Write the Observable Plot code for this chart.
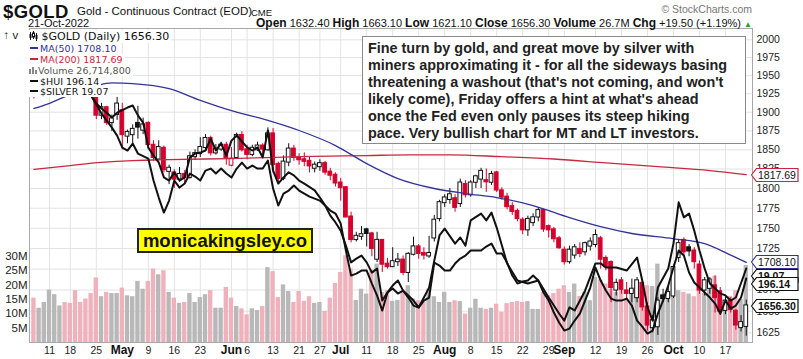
<!DOCTYPE html>
<html><head><meta charset="utf-8">
<script src="https://cdn.jsdelivr.net/npm/d3@7"></script>
<script src="https://cdn.jsdelivr.net/npm/@observablehq/plot@0.6"></script>
<style>
body{margin:0;background:#fff;}
#wrap{position:relative;width:803px;height:359px;overflow:hidden;font-family:"Liberation Sans",Arial,sans-serif;color:#111;}
.abs{position:absolute;white-space:nowrap;}
.leg{position:absolute;left:29px;background:#fff;font-family:"DejaVu Sans",sans-serif;font-size:9.5px;line-height:11px;height:11px;padding-right:2px;white-space:nowrap;}
.note{position:absolute;left:362px;top:36px;width:377px;height:103px;border:1px solid #8a8a8a;background:#fff;padding:3px 0 0 5px;font-weight:bold;font-size:14.4px;line-height:16.9px;color:#222;}
.wm{position:absolute;left:137px;top:228px;width:172px;height:21px;border:2px solid #222;background:#ffff00;font-weight:bold;font-size:18.5px;line-height:21px;text-align:center;color:#111;}
</style></head><body><div id="wrap"></div>
<script>
// ---------- categories ----------
const holidays = ["04-15","05-30","06-20","07-04","09-05"];
const fmtKey = d3.timeFormat("%m-%d");
const days = d3.timeDay.range(new Date(2022,3,6), new Date(2022,9,22))
  .filter(d => d.getDay() !== 0 && d.getDay() !== 6 && !holidays.includes(fmtKey(d)))
  .map(fmtKey);
const dayTicks = [["04-11","11"],["04-18","18"],["04-25","25"],["05-09","9"],["05-16","16"],["05-23","23"],["06-06","6"],["06-13","13"],["06-21","21"],["06-27","27"],["07-11","11"],["07-18","18"],["07-25","25"],["08-08","8"],["08-15","15"],["08-22","22"],["08-29","29"],["09-12","12"],["09-19","19"],["09-26","26"],["10-10","10"],["10-17","17"]];
const monthTicks = [["05-02","May"],["06-01","Jun"],["07-01","Jul"],["08-01","Aug"],["09-01","Sep"],["10-03","Oct"]];
const priceTicks = [1625,1650,1675,1700,1725,1750,1775,1800,1825,1850,1875,1900,1925,1950,1975,2000];
const volTicks = [5,10,15,20,25,30];

// ---------- series (one value per trading day) ----------
const open = [1930,1925,1931,1945,1953,1976,1984,1974,1970,1950,1946,1942,1922,1896,1906,1886,1897,1902,1868,1870,1885,1876,1885,1856,1838,1852,1822,1820,1812,1818,1814,1841,1845,1853,1865,1846,1851,1856,1830,1840,1869,1850,1844,1850,1855,1850,1871,1831,1813,1834,1851,1840,1837,1835,1826,1828,1832,1821,1817,1807,1801,1764,1736,1740,1748,1743,1712,1735,1706,1703,1709,1711,1696,1718,1727,1719,1716,1738,1762,1782,1786,1787,1781,1805,1792,1808,1812,1810,1808,1820,1797,1789,1777,1771,1760,1748,1757,1764,1772,1752,1748,1737,1723,1709,1717,1724,1721,1728,1730,1737,1713,1708,1675,1686,1674,1671,1666,1683,1655,1631,1632,1668,1665,1668,1714,1735,1726,1722,1705,1675,1677,1680,1673,1651,1662,1650,1631,1632.4];
const high = [1936,1938,1950,1958,1980,1988,1987,1998,1975,1960,1958,1950,1930,1912,1908,1896,1920,1912,1876,1883,1908,1892,1887,1862,1862,1855,1830,1824,1827,1823,1847,1850,1866,1870,1868,1857,1860,1860,1853,1872,1874,1856,1856,1860,1858,1879,1878,1834,1842,1858,1856,1845,1846,1841,1834,1837,1835,1826,1820,1813,1802,1770,1745,1752,1750,1745,1745,1736,1713,1726,1719,1716,1720,1739,1730,1726,1740,1766,1785,1792,1800,1792,1812,1810,1810,1817,1826,1825,1822,1822,1801,1794,1782,1774,1763,1765,1768,1776,1774,1754,1751,1740,1727,1728,1730,1732,1733,1738,1748,1740,1716,1710,1688,1690,1684,1688,1690,1686,1660,1645,1666,1676,1680,1705,1736,1738,1730,1726,1710,1690,1690,1692,1678,1668,1666,1652,1645,1663.1];
const low = [1918,1920,1928,1940,1950,1965,1960,1965,1945,1940,1938,1928,1890,1890,1882,1874,1889,1850,1858,1858,1864,1870,1850,1835,1836,1820,1805,1800,1808,1806,1812,1836,1840,1850,1842,1843,1848,1830,1828,1838,1847,1837,1841,1848,1843,1848,1820,1806,1810,1828,1835,1830,1828,1820,1820,1822,1817,1810,1802,1784,1763,1732,1733,1735,1727,1715,1708,1696,1700,1702,1703,1692,1684,1716,1712,1711,1713,1733,1758,1776,1780,1770,1776,1788,1789,1800,1800,1795,1804,1795,1785,1773,1766,1758,1742,1740,1752,1758,1745,1738,1732,1724,1705,1706,1712,1714,1716,1722,1726,1700,1698,1660,1668,1670,1665,1660,1660,1650,1627,1625,1622,1660,1660,1665,1708,1716,1715,1700,1670,1668,1670,1648,1645,1646,1648,1628,1626,1621.1];
const close = [1925,1931,1945,1953,1976,1984,1974,1970,1950,1946,1942,1932,1896,1906,1886,1891,1911,1870,1873,1877,1880,1883,1857,1840,1853,1824,1826,1812,1818,1814,1841,1845,1853,1865,1846,1851,1856,1840,1838,1869,1850,1844,1852,1855,1851,1871,1831,1813,1834,1851,1840,1837,1835,1829,1830,1832,1821,1817,1807,1801,1764,1736,1740,1742,1743.5,1725,1735,1706,1703,1709,1711,1696,1718,1727,1719,1717,1719,1760,1782,1788,1792,1776,1807,1792,1807,1815,1822,1808.5,1818,1798,1789,1777,1771,1762,1748,1761,1763,1772,1749,1748,1737,1726,1709,1723,1726,1719,1731,1733,1741,1712,1703,1678,1683,1676,1671,1676,1686,1655,1634,1639,1662,1665,1672,1702,1731,1721,1722,1709,1675,1686,1687,1666,1650,1662,1652,1634,1636.8,1656.3];
const volumeM = [15.4,11.9,13.9,18.2,16.6,12.7,13.9,13.6,18.0,13.9,15.1,17.0,22.4,15.9,17.4,17.0,17.0,18.9,16.2,15.9,21.2,18.5,21.2,25.5,23.5,24.9,17.4,15.4,13.6,13.9,17.0,13.9,15.6,16.6,18.0,11.9,11.9,19.1,15.4,12.5,11.7,9.6,11.7,11.1,12.5,26.0,24.6,15.6,20.0,17.7,13.9,17.7,14.3,15.9,13.6,13.9,10.8,15.4,20.5,24.3,30.1,25.5,14.6,18.5,16.8,25.2,27.2,17.4,18.0,14.3,14.6,17.4,19.7,15.1,14.5,13.9,18.5,15.9,13.9,17.4,13.9,14.5,14.2,9.9,11.9,15.0,11.9,11.5,11.9,13.3,10.5,13.5,13.9,14.2,13.9,14.2,11.5,11.5,17.4,16.2,17.0,18.5,19.7,17.4,20.3,16.0,17.4,14.5,22.6,21.7,20.3,18.5,17.4,20.3,15.1,17.4,20.3,11.9,19.7,19.4,27.2,16.8,16.8,20.5,18.0,17.4,16.8,15.9,19.7,17.0,18.6,23.0,17.0,14.0,16.0,18.0,15.0,26.7148];

// ---------- overlays (date, value) ----------
const ma50 = [["04-06",1905],["04-11",1912],["04-14",1921],["04-20",1929],["04-25",1936],["04-28",1940],["05-04",1939],["05-13",1932],["05-23",1916],["06-01",1902],["06-10",1889],["06-21",1875.5],["06-30",1855.6],["07-11",1832],["07-19",1812.7],["07-28",1800],["08-05",1793.6],["08-15",1788.5],["08-24",1778.4],["09-02",1763.3],["09-13",1752],["09-21",1743.5],["10-03",1737],["10-11",1731],["10-18",1717],["10-21",1708.1]];
const ma200 = [["04-06",1824.5],["04-18",1829.5],["04-26",1833.5],["05-04",1836],["05-13",1837.3],["06-01",1838.6],["06-21",1841],["07-11",1842.5],["07-21",1843.5],["08-02",1843.5],["08-16",1841],["08-30",1838],["09-14",1833],["09-28",1828],["10-12",1823],["10-21",1817.69]];
const silver = [["04-06",24.29],["04-13",24.88],["04-19",24.73],["04-22",24.14],["04-25",23.91],["04-26",23.76],["04-27",23.64],["04-28",23.50],["04-29",23.64],["05-03",23.79],["05-04",23.85],["05-05",23.56],["05-06",23.35],["05-09",22.62],["05-10",22.38],["05-11",22.18],["05-12",21.74],["05-13",21.65],["05-16",21.89],["05-17",21.65],["05-18",21.74],["05-19",22.33],["05-20",22.44],["05-23",22.47],["05-24",22.53],["05-25",22.88],["05-26",22.53],["05-27",22.74],["05-31",22.38],["06-01",22.82],["06-02",22.97],["06-06",22.62],["06-07",22.53],["06-08",22.62],["06-09",22.33],["06-10",23.12],["06-13",21.94],["06-14",21.56],["06-15",21.74],["06-16",21.89],["06-17",21.80],["06-21",21.65],["06-22",21.56],["06-24",21.36],["06-27",21.15],["06-28",20.92],["06-29",20.62],["06-30",20.42],["07-01",20.18],["07-05",19.74],["07-06",19.25],["07-07",19.36],["07-08",19.45],["07-11",19.25],["07-12",18.95],["07-13",19.07],["07-14",18.13],["07-15",18.37],["07-18",18.57],["07-19",18.72],["07-20",18.42],["07-21",18.28],["07-22",18.13],["07-25",17.93],["07-26",18.22],["07-27",18.51],["07-28",19.30],["07-29",20.04],["08-01",20.24],["08-03",19.80],["08-04",19.98],["08-05",19.74],["08-08",20.48],["08-10",20.68],["08-11",20.48],["08-12",20.71],["08-15",20.27],["08-17",19.22],["08-19",18.72],["08-23",18.63],["08-25",18.72],["08-29",18.22],["08-31",17.75],["09-01",17.54],["09-02",17.93],["09-06",17.84],["09-08",18.42],["09-12",19.22],["09-13",19.22],["09-14",19.10],["09-16",19.10],["09-20",19.01],["09-22",19.39],["09-23",18.72],["09-26",17.93],["09-27",17.54],["09-28",18.51],["09-30",19.07],["10-03",19.80],["10-04",21.01],["10-05",20.57],["10-06",20.68],["10-07",20.18],["10-10",19.60],["10-11",19.07],["10-12",18.63],["10-14",18.34],["10-17",18.28],["10-18",18.13],["10-19",18.22],["10-21",19.07]];
const hui = [["04-06",297.6],["04-13",305.1],["04-19",300.1],["04-22",287.6],["04-26",278.6],["04-28",271.6],["04-29",267.6],["05-02",261.6],["05-03",260.1],["05-04",263.6],["05-05",258.6],["05-09",256.1],["05-10",245.1],["05-11",236.6],["05-12",229.1],["05-13",235.1],["05-16",245.1],["05-17",241.6],["05-18",243.6],["05-19",248.6],["05-20",247.1],["05-23",245.1],["05-24",250.1],["05-25",251.1],["05-26",248.6],["05-27",251.1],["05-31",248.6],["06-01",246.6],["06-02",251.1],["06-03",254.1],["06-06",251.1],["06-07",252.6],["06-08",251.1],["06-09",251.1],["06-10",255.1],["06-13",241.1],["06-14",232.6],["06-15",238.6],["06-16",240.1],["06-17",242.6],["06-21",240.1],["06-22",238.6],["06-23",237.1],["06-24",236.1],["06-27",235.1],["06-28",232.6],["06-29",230.1],["06-30",228.6],["07-01",223.6],["07-05",210.1],["07-06",197.6],["07-07",198.6],["07-08",200.1],["07-11",200.1],["07-12",193.6],["07-13",187.6],["07-14",180.1],["07-15",189.1],["07-18",191.1],["07-19",188.6],["07-20",190.1],["07-21",186.6],["07-22",182.6],["07-25",181.6],["07-26",185.1],["07-27",186.6],["07-28",204.1],["07-29",202.6],["08-01",200.1],["08-02",200.1],["08-03",203.6],["08-04",206.1],["08-05",207.6],["08-08",210.1],["08-09",210.1],["08-10",210.1],["08-11",212.1],["08-12",213.6],["08-15",208.6],["08-16",208.6],["08-17",204.1],["08-18",197.6],["08-19",193.6],["08-22",194.6],["08-23",195.1],["08-24",197.6],["08-25",195.1],["08-26",189.1],["08-29",185.1],["08-30",179.1],["08-31",174.1],["09-01",170.1],["09-02",171.1],["09-06",175.1],["09-07",178.6],["09-08",185.1],["09-09",191.6],["09-12",201.6],["09-13",195.1],["09-14",190.1],["09-15",186.1],["09-16",185.1],["09-19",185.1],["09-20",186.1],["09-21",182.6],["09-22",175.1],["09-23",172.1],["09-26",168.6],["09-27",170.1],["09-28",178.6],["09-29",185.1],["09-30",192.6],["10-03",201.6],["10-04",210.1],["10-05",207.6],["10-06",199.1],["10-07",194.1],["10-10",191.6],["10-11",189.1],["10-12",186.6],["10-13",183.6],["10-14",178.6],["10-17",185.1],["10-18",181.1],["10-19",182.6],["10-20",186.6],["10-21",196.14]];

const noteLines = ["Fine turn by gold, and great move by silver with","miners approximating it - for all the sideways basing","threatening a washout (that's not coming, and won't","likely come), Friday offers a hint at what's ahead","once the Fed even only pauses its steep hiking","pace. Very bullish chart for MT and LT investors."];
const watermark = "monicakingsley.co";

// ---------- build ----------
const idx = new Map(days.map((k, i) => [k, i]));
const N = days.length;
const candles = days.map((k, i) => {
  const prev = i ? close[i - 1] : open[i];
  return {i, o: open[i], h: high[i], l: low[i], c: close[i], v: volumeM[i], down: close[i] < prev, hollow: close[i] >= open[i]};
});
const RED = "#d5002c", PINK = "#efb2bc", GREY = "#b8b8b8";
const pts = arr => arr.map(([d, v]) => ({i: idx.get(d), v}));

const wrap = document.getElementById("wrap");
const W = 803, H = 332;
const xd = [-0.85, N + 0.2];
const yPrice = {type: "log", domain: [1613.9, 2016.1], axis: null};
const base = o => Object.assign({width: W, height: H, marginTop: 1, marginRight: 51, marginBottom: 17, marginLeft: 29,
  style: {background: "transparent", fontFamily: '"Liberation Sans",Arial,sans-serif', fontSize: "10.5px", color: "#222", overflow: "visible"},
  x: {type: "linear", domain: xd, axis: null}}, o);
function add(svg) { svg.style.position = "absolute"; svg.style.left = "0px"; svg.style.top = "27px"; wrap.appendChild(svg); return svg; }

const allTicks = [...dayTicks, ...monthTicks].map(t => idx.get(t[0]));
const labelOf = new Map([...dayTicks, ...monthTicks].map(t => [idx.get(t[0]), t[1]]));

// grid
add(Plot.plot(base({y: yPrice, marks: [
  Plot.ruleY(priceTicks, {stroke: "#e3e3e3"}),
  Plot.ruleX(allTicks, {stroke: "#e3e3e3"})
]})));

// volume + left & bottom axes
add(Plot.plot(base({y: {domain: [0, 109], axis: null}, marks: [
  Plot.rect(candles, {x1: d => d.i - 0.42, x2: d => d.i + 0.42, y1: 0, y2: "v", fill: d => d.down ? PINK : GREY, clip: true}),
  Plot.axisY({anchor: "left", ticks: volTicks, tickFormat: d => d + "M", tickSize: 0, tickPadding: 2, fontSize: 11.5, fill: "#222"}),
  Plot.axisX({ticks: dayTicks.map(t => idx.get(t[0])), tickFormat: i => labelOf.get(i), tickSize: 0, tickPadding: 4, fontSize: 10.5, fill: "#222"}),
  Plot.axisX({ticks: monthTicks.map(t => idx.get(t[0])), tickFormat: i => labelOf.get(i), tickSize: 0, tickPadding: 3, fontSize: 12, fontWeight: "bold", fill: "#111"})
]})));

// candles + moving averages + right axis
const pricePlot = add(Plot.plot(base({y: yPrice, marks: [
  Plot.ruleX(candles, {x: "i", y1: "l", y2: "h", stroke: d => d.down ? RED : "#111", strokeWidth: 1, clip: true}),
  Plot.rect(candles, {x1: d => d.i - 0.36, x2: d => d.i + 0.36, y1: "o", y2: "c", insetTop: -0.5, insetBottom: -0.5,
    fill: d => d.hollow ? "#fff" : (d.down ? RED : "#111"), stroke: d => d.down ? RED : "#111", strokeWidth: 1, clip: true}),
  Plot.line(pts(ma200), {x: "i", y: "v", stroke: "#c8283f", strokeWidth: 1.3, curve: "monotone-x", clip: true}),
  Plot.line(pts(ma50), {x: "i", y: "v", stroke: "#33339a", strokeWidth: 1.3, curve: "monotone-x", clip: true}),
  Plot.axisY({anchor: "right", ticks: priceTicks, tickFormat: d => String(d), tickSize: 0, tickPadding: 4, fontSize: 10.5, fill: "#222"}),
  Plot.frame({stroke: "#a8a8a8"})
]})));

// silver and HUI overlays (own scales)
const silverPlot = add(Plot.plot(base({y: {type: "linear", domain: [16.90, 26.108], axis: null}, marks: [
  Plot.line(pts(silver), {x: "i", y: "v", stroke: "#111", strokeWidth: 2, clip: true})
]})));
const huiPlot = add(Plot.plot(base({y: {type: "linear", domain: [164.14, 321.14], axis: null}, marks: [
  Plot.line(pts(hui), {x: "i", y: "v", stroke: "#111", strokeWidth: 2, clip: true})
]})));

// ---------- HTML overlays ----------
function el(html, cls, css) { const d = document.createElement("div"); d.className = cls || "abs"; if (css) d.style.cssText += css; d.innerHTML = html; wrap.appendChild(d); return d; }
const last = N - 1;
const f2 = d3.format(".2f");
const chg = close[last] - close[last - 1];

el("$GOLD", "abs", "left:3px;top:1px;font-weight:bold;font-size:18.5px;letter-spacing:0.4px;");
el("Gold - Continuous Contract (EOD)", "abs", "left:77px;top:5px;font-size:11.5px;");
el("CME", "abs", "left:251px;top:7px;font-size:9.5px;");
el("21-Oct-2022", "abs", "left:28px;top:17px;font-size:11px;");
el("&copy; StockCharts.com", "abs", "right:51px;top:3px;font-size:10.5px;color:#777;");
el(`<b style="font-size:12px">Open</b> ${f2(open[last])} <b style="font-size:12px">High</b> ${f2(high[last])} <b style="font-size:12px">Low</b> ${f2(low[last])} <b style="font-size:12px">Close</b> ${f2(close[last])} <b style="font-size:12px">Volume</b> ${d3.format(".1f")(volumeM[last])}M <b style="font-size:12px">Chg</b> +${f2(chg)} (+${f2(chg / close[last - 1] * 100)}%) <span style="color:#2a9d2a;font-size:8px">&#9650;</span>`,
  "abs", "right:51px;top:16px;font-size:11px;");

// legend
const candleIcon = `<svg width="9" height="10" style="vertical-align:-1px"><line x1="1.5" y1="1" x2="1.5" y2="9" stroke="#111"/><rect x="0.5" y="3" width="2" height="4" fill="#111"/><line x1="4.5" y1="0" x2="4.5" y2="8" stroke="#111"/><rect x="3.5" y="2" width="2" height="4" fill="#fff" stroke="#111"/><line x1="7.5" y1="2" x2="7.5" y2="10" stroke="#111"/><rect x="6.5" y="4" width="2" height="4" fill="#111"/></svg>`;
const dash = c => `<span style="display:inline-block;width:8px;height:2px;background:${c};vertical-align:3px;margin:0 2px 0 1px"></span>`;
const volIcon = `<svg width="9" height="8" style="vertical-align:0px"><rect x="0" y="3" width="2" height="5" fill="#888"/><rect x="3" y="1" width="2" height="7" fill="#888"/><rect x="6" y="4" width="2" height="4" fill="#888"/></svg>`;
el(`${candleIcon} $GOLD (Daily) ${f2(close[last])}`, "leg", "top:30px;font-size:11px;height:13px;line-height:13px;");
el(`${dash("#33339a")}<span style="color:#33339a">MA(50) ${f2(ma50[ma50.length - 1][1])}</span>`, "leg", "top:43px;");
el(`${dash("#c8283f")}<span style="color:#c8283f">MA(200) ${f2(ma200[ma200.length - 1][1])}</span>`, "leg", "top:54px;");
el(`${volIcon}<span style="color:#555">Volume ${d3.format(",")(Math.round(volumeM[last] * 1e6))}</span>`, "leg", "top:65px;");
el(`${dash("#111")}$HUI ${f2(hui[hui.length - 1][1])}`, "leg", "top:76px;");
el(`${dash("#111")}$SILVER ${f2(silver[silver.length - 1][1])}`, "leg", "top:86px;height:11px;");

// note and watermark
el(noteLines.join("<br>"), "note");
el(watermark, "wm");

// right-hand value tags
function tag(text, y, color, bold) {
  const w = 47, h = 13;
  el(`<svg width="${w + 1}" height="${h + 1}"><polygon points="0.5,${h / 2 + 0.5} 5.5,0.5 ${w},0.5 ${w},${h + 0.5} 5.5,${h + 0.5}" fill="#fff" stroke="${color}" stroke-width="1.2"/><text x="7" y="${h - 2.5}" font-size="10.5" font-weight="${bold ? "bold" : "normal"}" fill="#111" font-family="Liberation Sans, Arial, sans-serif">${text}</text></svg>`,
    "abs", `left:751px;top:${(y - h / 2).toFixed(1)}px;line-height:0;`);
}
const py = v => 27 + pricePlot.scale("y").apply(v);
const yMA200 = py(ma200[ma200.length - 1][1]);
const yMA50 = py(ma50[ma50.length - 1][1]);
const ySil = Math.max(27 + silverPlot.scale("y").apply(silver[silver.length - 1][1]), yMA50 + 14);
const yHui = Math.max(27 + huiPlot.scale("y").apply(hui[hui.length - 1][1]), ySil + 8);
const yClose = py(close[last]);
tag(f2(silver[silver.length - 1][1]), ySil, "#111", true);
tag(f2(ma200[ma200.length - 1][1]), yMA200, "#c8283f", false);
tag(f2(ma50[ma50.length - 1][1]), yMA50, "#33339a", false);
tag(f2(hui[hui.length - 1][1]), yHui, "#111", true);
tag(f2(close[last]), yClose, "#111", true);
</script></body></html>
